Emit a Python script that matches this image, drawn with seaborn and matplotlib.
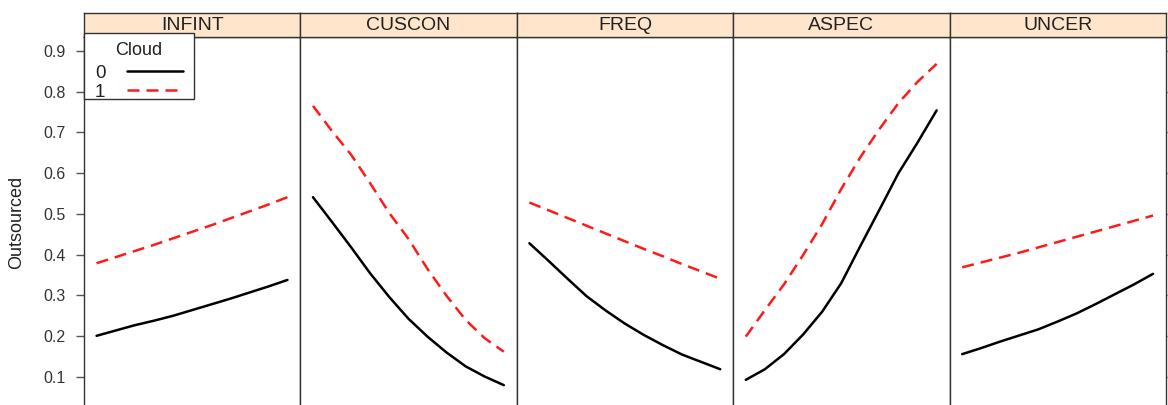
import pandas as pd
import matplotlib
matplotlib.use('Agg')
import matplotlib.pyplot as plt
from matplotlib.lines import Line2D
from matplotlib.patches import Rectangle
import seaborn as sns

# ── DATA ───────────────────────────────────────────────
terms = ['INFINT', 'CUSCON', 'FREQ', 'ASPEC', 'UNCER']
x_levels = [0.0, 0.1, 0.2, 0.3, 0.4, 0.5, 0.6, 0.7, 0.8, 0.9, 1.0]

# predicted probability of outsourcing, Cloud = 0
cloud0 = {
    'INFINT': [0.201, 0.214, 0.227, 0.238, 0.250, 0.264, 0.278, 0.292, 0.307, 0.322, 0.338],
    'CUSCON': [0.541, 0.480, 0.418, 0.354, 0.296, 0.243, 0.199, 0.160, 0.126, 0.101, 0.080],
    'FREQ':   [0.428, 0.385, 0.341, 0.298, 0.263, 0.231, 0.203, 0.178, 0.155, 0.137, 0.119],
    'ASPEC':  [0.093, 0.119, 0.156, 0.204, 0.260, 0.330, 0.421, 0.510, 0.600, 0.675, 0.754],
    'UNCER':  [0.156, 0.171, 0.187, 0.202, 0.217, 0.236, 0.256, 0.279, 0.303, 0.327, 0.353],
}
# Cloud = 1
cloud1 = {
    'INFINT': [0.379, 0.394, 0.409, 0.424, 0.440, 0.456, 0.472, 0.489, 0.506, 0.523, 0.541],
    'CUSCON': [0.765, 0.703, 0.645, 0.575, 0.502, 0.439, 0.365, 0.299, 0.240, 0.195, 0.162],
    'FREQ':   [0.528, 0.509, 0.490, 0.471, 0.452, 0.433, 0.414, 0.396, 0.377, 0.359, 0.341],
    'ASPEC':  [0.199, 0.264, 0.327, 0.399, 0.475, 0.561, 0.639, 0.708, 0.772, 0.824, 0.868],
    'UNCER':  [0.369, 0.381, 0.393, 0.405, 0.418, 0.431, 0.444, 0.457, 0.470, 0.483, 0.496],
}
y_ticks = [0.1, 0.2, 0.3, 0.4, 0.5, 0.6, 0.7, 0.8, 0.9]
cloud_levels = ['0', '1']

rows = []
for t in terms:
    for cloud, src in zip(cloud_levels, (cloud0, cloud1)):
        for xv, yv in zip(x_levels, src[t]):
            rows.append({'term': t, 'Cloud': cloud, 'x': xv, 'Outsourced': yv})
df = pd.DataFrame(rows)

# ── STYLE ──────────────────────────────────────────────
sns.set_style('white')
plt.rcParams['font.family'] = ['Liberation Sans', 'DejaVu Sans']

W, H = 1168, 405
fig = plt.figure(figsize=(W / 100, H / 100), dpi=100)

border = '#333333'
strip_col = '#ffe5cc'
palette = {'0': 'black', '1': '#ff1a1a'}
dashes = {'0': '', '1': (4.8, 2.8)}

left_px, right_px = 84, 1166
top_px, strip_top_px, bottom_px = 37, 13, 425
pw = (right_px - left_px) / len(terms)

def fx(px):
    return px / W

def fy(px):
    return 1 - px / H

for i, t in enumerate(terms):
    x0 = fx(left_px + i * pw)
    ax = fig.add_axes([x0, fy(bottom_px), pw / W, (bottom_px - top_px) / H])
    sub = df[df['term'] == t]
    sns.lineplot(data=sub, x='x', y='Outsourced', hue='Cloud', style='Cloud',
                 palette=palette, dashes=dashes, linewidth=1.8,
                 legend=False, ax=ax)
    ax.set_xlim(-0.066, 1.068)
    ax.set_ylim(-0.0178, 0.934)
    ax.set_xticks([])
    ax.set_xlabel('')
    ax.set_ylabel('')
    ax.set_yticks(y_ticks)
    for s in ax.spines.values():
        s.set_color(border)
        s.set_linewidth(1.0)
    if i == 0:
        ax.tick_params(axis='y', left=True, right=False, length=5.5, width=1.0,
                       color='#555555', pad=7.5, labelsize=11.5, labelcolor='#333333')
        ax.set_yticklabels([f'{v:.1f}' for v in y_ticks])
    elif i == len(terms) - 1:
        ax.tick_params(axis='y', left=False, right=True, labelleft=False,
                       length=5.5, width=1.0, color='#999999')
    else:
        ax.tick_params(axis='y', left=False, right=False, labelleft=False)

    # strip header
    sx = fig.add_axes([x0, fy(top_px), pw / W, (top_px - strip_top_px) / H])
    sx.set_facecolor(strip_col)
    sx.set_xticks([])
    sx.set_yticks([])
    for s in sx.spines.values():
        s.set_color(border)
        s.set_linewidth(1.0)
    sx.text(0.5, 0.47, t, ha='center', va='center', fontsize=14,
            color='#222222', transform=sx.transAxes)

fig.text(fx(17), fy(222), 'Outsourced', rotation=90, ha='center', va='center',
         fontsize=13, color='#222222')

# ── KEY (lattice-style, drawn by hand) ─────────────────
fig.add_artist(Rectangle((fx(84), fy(99)), (194 - 84) / W, (99 - 33) / H,
                         transform=fig.transFigure, facecolor='white',
                         edgecolor=border, linewidth=1.0, zorder=10))
fig.text(fx(139), fy(55), 'Cloud', ha='center', va='baseline', fontsize=13,
         color='#222222', zorder=11)
for lvl, base_y, line_y in zip(cloud_levels, (78, 97), (71, 90)):
    fig.text(fx(100), fy(base_y), lvl, ha='center', va='baseline', fontsize=13.5,
             color='#222222', zorder=11)
    fig.add_artist(Line2D([fx(127), fx(183)], [fy(line_y), fy(line_y)],
                          transform=fig.transFigure, color=palette[lvl],
                          lw=1.8, dashes=dashes[lvl] if dashes[lvl] else (None, None),
                          zorder=11))

fig.savefig('out.png', dpi=100)
